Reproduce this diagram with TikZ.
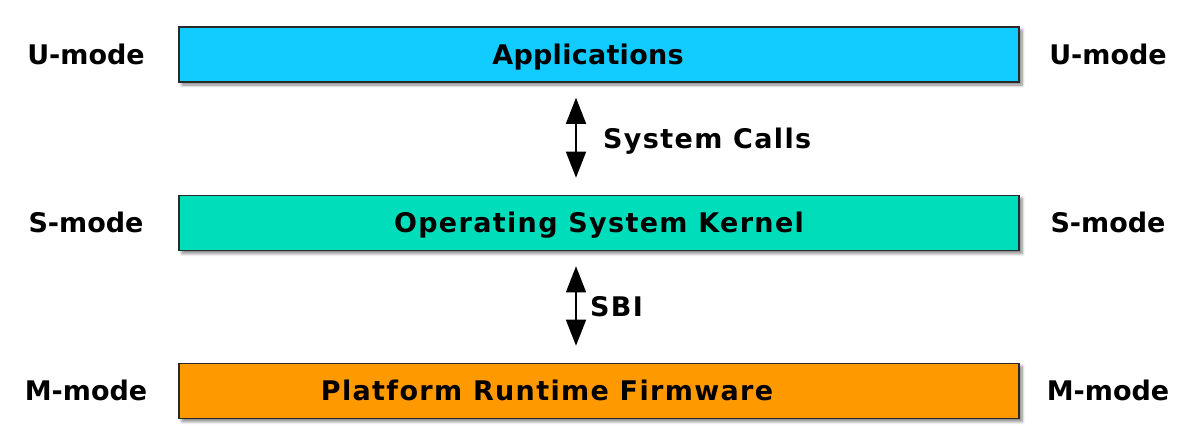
\documentclass[tikz,border=0pt]{standalone}
\usepackage{fontspec}
\setmainfont{DejaVu Sans}
\newfontfamily\widefont[LetterSpace=5]{DejaVu Sans}
\newfontfamily\midfont[LetterSpace=1]{DejaVu Sans}
\usetikzlibrary{arrows.meta,shadows.blur}
\definecolor{appc}{HTML}{12CCFF}
\definecolor{kerc}{HTML}{00DDBB}
\definecolor{fwc}{HTML}{FF9900}
\definecolor{edgec}{HTML}{2A2A2A}
\tikzset{
  layer/.style={draw=edgec, line width=1.6pt, minimum width=840pt, minimum height=55pt, inner sep=0pt,
    blur shadow={shadow xshift=3pt, shadow yshift=-3pt, shadow blur steps=6, shadow blur radius=3pt, shadow opacity=50}},
  boxtext/.style={font=\fontsize{27}{32}\selectfont\widefont\bfseries, inner sep=0pt, text height=19.7pt, text depth=0pt},
  modelbl/.style={font=\fontsize{27}{32}\selectfont\bfseries, inner sep=0pt, text height=19.7pt, text depth=0pt},
  calllbl/.style={font=\fontsize{27}{32}\selectfont\widefont\bfseries, inner sep=0pt, anchor=west, text height=19.7pt, text depth=0pt},
  dbl/.style={line width=1.5pt, {Triangle[width=20pt,length=26pt]}-{Triangle[width=20pt,length=26pt]}}
}
\begin{document}
\begin{tikzpicture}[x=1pt,y=-1pt]
\useasboundingbox (0,0) rectangle (1188,447);
\node[layer, fill=appc] (app) at (599,54.5) {};
\node[layer, fill=kerc] (ker) at (599,223) {};
\node[layer, fill=fwc] (fw) at (599,391) {};
\node[boxtext, font=\fontsize{27}{32}\selectfont\midfont\bfseries] (appt) at ([xshift=-11pt]app.center) {Applications};
\node[boxtext] (kert) at ([xshift=0pt]ker.center) {Operating System Kernel};
\node[boxtext] (fwt) at ([xshift=-52pt]fw.center) {Platform Runtime Firmware};
\node[modelbl] (ul) at (86,55) {U-mode};
\node[modelbl] (ur) at (1108,55) {U-mode};
\node[modelbl] (sl) at (86,223) {S-mode};
\node[modelbl] (sr) at (1108,223) {S-mode};
\node[modelbl] (ml) at (86,391) {M-mode};
\node[modelbl] (mr) at (1108,391) {M-mode};
\draw[dbl, shorten <=15pt, shorten >=17pt] ([xshift=-23pt]app.south) -- ([xshift=-23pt]ker.north);
\draw[dbl, shorten <=15pt, shorten >=17pt] ([xshift=-23pt]ker.south) -- ([xshift=-23pt]fw.north);
\node[calllbl] (sc) at (603,139) {System Calls};
\node[calllbl] (sbi) at (590,307) {SBI};
\end{tikzpicture}
\end{document}
